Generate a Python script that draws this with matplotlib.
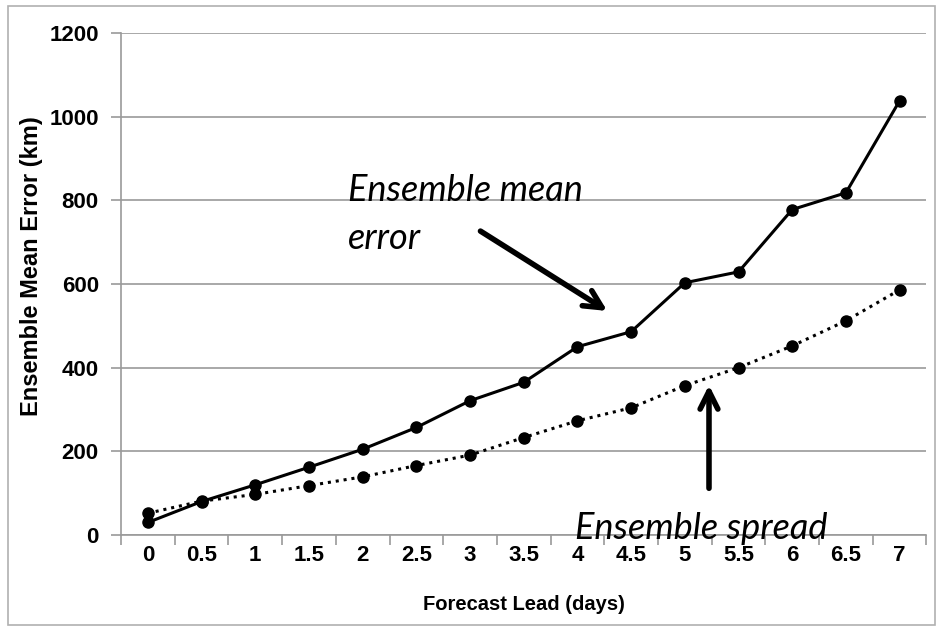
import matplotlib.pyplot as plt
import numpy as np
from matplotlib.patches import Rectangle

# data
lead = ['0', '0.5', '1', '1.5', '2', '2.5', '3', '3.5', '4', '4.5', '5', '5.5', '6', '6.5', '7']
mean_error = [30, 80, 120, 162, 205, 257, 321, 365, 450, 486, 603, 629, 778, 818, 1038]
spread = [52, 81, 97, 118, 139, 166, 191, 233, 273, 304, 357, 400, 452, 512, 586]

plt.rcParams['font.family'] = ['Liberation Sans', 'DejaVu Sans']

fig = plt.figure(figsize=(9.42, 6.30), dpi=100)
ax = fig.add_axes([0.1285, 0.1508, 0.855, 0.7968])

x = np.arange(len(lead))
ax.plot(x, mean_error, color='black', lw=2.2, marker='o', ms=8, zorder=3)
ax.plot(x, spread, color='black', lw=2.2, ls=(0, (1, 1.6)), marker='o', ms=8, zorder=3)

ax.set_xlim(-0.5, len(lead) - 0.5)
ax.set_ylim(0, 1200)
ax.set_yticks(np.arange(0, 1201, 200))
ax.yaxis.grid(True, color='#9a9a9a', lw=1.2)
ax.set_axisbelow(True)

ax.set_xticks(x)
ax.set_xticklabels(lead)
ax.set_xticks(np.arange(-0.5, len(lead), 1), minor=True)
ax.tick_params(axis='x', which='major', length=0, pad=7)
ax.tick_params(axis='x', which='minor', length=7, color='#9a9a9a', width=1.2)
ax.tick_params(axis='y', length=7, color='#9a9a9a', width=1.2, pad=9)
for lab in ax.get_xticklabels() + ax.get_yticklabels():
    lab.set_fontsize(16)
    lab.set_fontweight('bold')

for s in ['top', 'right']:
    ax.spines[s].set_visible(False)
for s in ['left', 'bottom']:
    ax.spines[s].set_color('#9a9a9a')
    ax.spines[s].set_linewidth(1.2)

ax.set_xlabel('Forecast Lead (days)', fontsize=14.5, fontweight='bold', labelpad=21)
ax.set_ylabel('Ensemble Mean Error (km)', fontsize=17, fontweight='bold')
ax.yaxis.set_label_coords(-0.097, 0.536)

# annotations
ax.text(3.72, 767, 'Ensemble mean\nerror', fontsize=26, style='italic',
        family=['Lato', 'DejaVu Sans'], ha='left', va='center', linespacing=1.55)
ax.annotate('', xy=(8.6, 532), xytext=(6.15, 730),
            arrowprops=dict(arrowstyle='->', lw=4, color='black', mutation_scale=32))
ax.text(7.95, 16, 'Ensemble spread', fontsize=26, style='italic',
        family=['Lato', 'DejaVu Sans'], ha='left', va='center')
ax.annotate('', xy=(10.45, 365), xytext=(10.45, 105),
            arrowprops=dict(arrowstyle='->', lw=4, color='black', mutation_scale=32))

# border around whole picture
fig.patches.append(Rectangle((0.008, 0.008), 0.985, 0.983, transform=fig.transFigure,
                             fill=False, edgecolor='#b0b0b0', lw=1.2))

fig.savefig('out.png', dpi=100)
